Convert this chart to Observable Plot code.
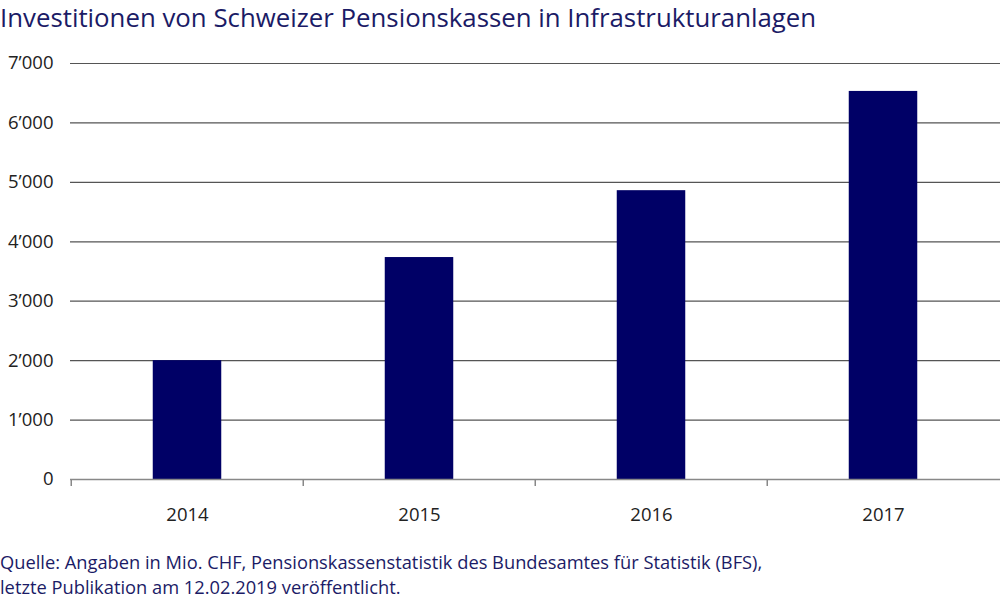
<!DOCTYPE html>
<html>
<head>
<meta charset="utf-8">
<script src="https://cdn.jsdelivr.net/npm/d3@7"></script>
<script src="https://cdn.jsdelivr.net/npm/@observablehq/plot@0.6"></script>
<style>
  html, body { margin: 0; padding: 0; background: #fff; }
  body { width: 1000px; height: 600px; overflow: hidden; font-family: "Open Sans", sans-serif; }
  #title { color: #1b1b66; font-size: 25.8px; line-height: 35px; height: 40px; margin: 0; white-space: nowrap; }
  #caption { color: #1b1b66; font-size: 18.3px; line-height: 24.5px; margin-top: 10px; white-space: nowrap; }
  svg text { font-family: "Open Sans", sans-serif; }
</style>
</head>
<body>
<div id="title">Investitionen von Schweizer Pensionskassen in Infrastrukturanlagen</div>
<div id="chart"></div>
<div id="caption">Quelle: Angaben in Mio. CHF, Pensionskassenstatistik des Bundesamtes für Statistik (BFS),<br>letzte Publikation am 12.02.2019 veröffentlicht.</div>
<script>
const years = ["2014", "2015", "2016", "2017"];
const values = [2000, 3735, 4860, 6530];
const yTicks = [0, 1000, 2000, 3000, 4000, 5000, 6000, 7000];

const data = years.map((y, i) => ({year: y, value: values[i]}));
const fmt = d3.formatLocale({thousands: "\u2019", grouping: [3], decimal: "."}).format(",d");

const W = 1000, mL = 70, mR = 0;
const half = (W - mL - mR) / years.length / 2;
const inset = half - 34.5;

const chart = Plot.plot({
  width: W,
  height: 500,
  marginLeft: mL,
  marginRight: mR,
  marginTop: 23,
  marginBottom: 61,
  style: {fontSize: "18px", color: "#222", background: "#fff"},
  x: {domain: years, padding: 0, label: null},
  y: {domain: [0, 7000], label: null},
  marks: [
    Plot.ruleY(yTicks.filter(d => d > 0), {stroke: "#555", strokeWidth: 1.2}),
    Plot.barY(data, {x: "year", y: "value", fill: "#000066", insetLeft: inset, insetRight: inset}),
    Plot.ruleY([0], {stroke: "#888", strokeWidth: 1.5}),
    Plot.ruleX(years, {x: d => d, dx: -half, y1: 0, y2: 0, insetBottom: -7, stroke: "#888", strokeWidth: 1.5}),
    Plot.axisY({ticks: yTicks, tickFormat: fmt, tickSize: 0, tickPadding: 17, fill: "#222", fontSize: 18.5}),
    Plot.axisX({tickSize: 0, tickPadding: 28, fill: "#222", fontSize: 18.5})
  ]
});
document.getElementById("chart").appendChild(chart);
</script>
</body>
</html>
